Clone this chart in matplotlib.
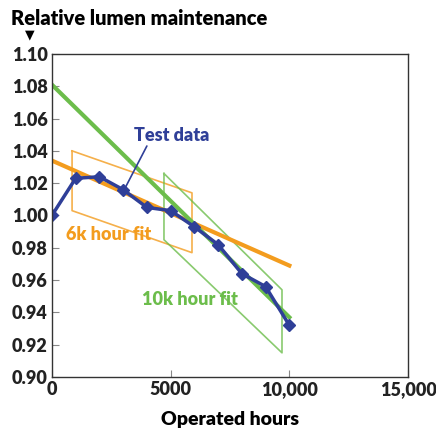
import matplotlib.pyplot as plt

hours = [0, 1000, 2000, 3000, 4000, 5000, 6000, 7000, 8000, 9000, 10000]
lumen = [1.000, 1.023, 1.024, 1.016, 1.005, 1.003, 0.993, 0.982, 0.964, 0.956, 0.932]

fit6_x = [0, 10000]
fit6_y = [1.034, 0.969]
fit10_x = [0, 10000]
fit10_y = [1.081, 0.937]

box6_x = [850, 850, 5900, 5900, 850]
box6_y = [1.040, 1.003, 0.977, 1.014, 1.040]
box10_x = [4720, 4720, 9690, 9690, 4720]
box10_y = [1.026, 0.985, 0.915, 0.954, 1.026]

blue = '#2f3f98'
orange = '#f39c1e'
green = '#6cbd4b'

plt.rcParams['font.family'] = ['Lato', 'DejaVu Sans']
W = 'heavy'

fig = plt.figure(figsize=(4.36, 4.28), dpi=100)
ax = fig.add_axes([0.119, 0.119, 0.817, 0.755])

ax.plot(box6_x, box6_y, color=orange, lw=1.2, alpha=0.8)
ax.plot(box10_x, box10_y, color=green, lw=1.2, alpha=0.8)
ax.plot(fit6_x, fit6_y, color=orange, lw=3)
ax.plot(fit10_x, fit10_y, color=green, lw=3)
ax.plot(hours, lumen, color=blue, lw=2.5, marker='D', ms=6.5)

ax.annotate('', xy=(3100, 1.0175), xytext=(4000, 1.043),
            arrowprops=dict(arrowstyle='-', color=blue, lw=1.2, shrinkA=0, shrinkB=0))
ax.text(5050, 1.0498, 'Test data', color=blue, fontsize=13, fontweight=W,
        ha='center', va='center')
ax.text(2400, 0.988, '6k hour fit', color=orange, fontsize=13, fontweight=W,
        ha='center', va='center')
ax.text(5815, 0.948, '10k hour fit', color=green, fontsize=13, fontweight=W,
        ha='center', va='center')

ax.set_xlim(0, 15000)
ax.set_ylim(0.90, 1.10)
ax.set_xticks([0, 5000, 10000, 15000])
ax.set_xticklabels(['0', '5000', '10,000', '15,000'])
ax.set_yticks([0.90 + 0.02 * i for i in range(11)])
ax.set_yticklabels(['%.2f' % (0.90 + 0.02 * i) for i in range(11)])
ax.tick_params(axis='both', direction='in', labelsize=13, length=5, width=0.8, colors='#888888',
               labelcolor='#222222', pad=3)
for lab in ax.get_xticklabels() + ax.get_yticklabels():
    lab.set_fontweight(W)
for s in ax.spines.values():
    s.set_linewidth(1.0)
    s.set_color('#333333')

ax.set_xlabel('Operated hours', fontsize=14, fontweight=W, labelpad=9)
fig.text(0.025, 0.957, 'Relative lumen maintenance', fontsize=14.5, fontweight=W,
         ha='left', va='center')
fig.text(0.068, 0.918, '▼', fontsize=9, ha='center', va='center', family='DejaVu Sans')

fig.savefig('out.png', dpi=100)
